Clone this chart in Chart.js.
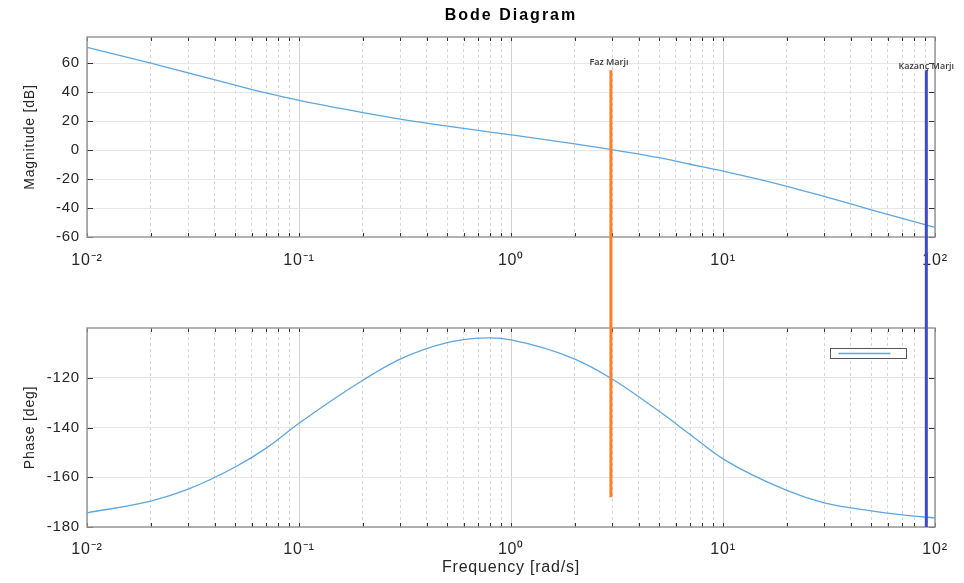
<!DOCTYPE html>
<html><head><meta charset="utf-8">
<script src="https://cdn.jsdelivr.net/npm/chart.js@4.4.1/dist/chart.umd.min.js"></script>
<style>html,body{margin:0;padding:0;background:#fff;}canvas{display:block;}</style>
</head><body>
<canvas id="c" width="964" height="583"></canvas>
<script>
// ---- data ----
const freq      = [0.01, 0.02, 0.03, 0.05, 0.07, 0.1, 0.2, 0.3, 0.5, 0.7, 0.8, 1, 2, 3, 5, 7, 10, 20, 30, 50, 70, 100];
const magDb     = [70.9, 60.0, 53.2, 44.8, 39.4, 34.2, 25.8, 21.4, 16.5, 13.5, 12.4, 10.5, 4.3, 0.3, -5.3, -9.8, -14.6, -25.0, -32.0, -41.2, -47.2, -53.4];
const phaseDeg  = [-174.3, -169.6, -164.8, -155.9, -148.3, -138.3, -121.0, -112.5, -105.9, -104.1, -104.0, -104.8, -112.5, -120.5, -133.5, -142.8, -152.6, -165.3, -170.3, -173.5, -175.1, -176.4];

const xDecades      = [0.01, 0.1, 1, 10, 100];
const xDecadeLabels = ['10\u207B\u00B2', '10\u207B\u00B9', '10\u2070', '10\u00B9', '10\u00B2'];
const magTicks      = [-60, -40, -20, 0, 20, 40, 60];
const phaseTicks    = [-180, -160, -140, -120];
const magRange      = [-60, 78];
const phaseRange    = [-180, -100];

const markerNames   = ['Faz Marj\u0131', 'Kazan\u00E7 Marj\u0131'];
const markerFreq    = [2.96, 91];
const markerMagTop  = [55, 55];
const markerPhaseBottom = [-168, -180];

// ---- styles ----
const curveColor   = 'rgb(94,166,222)';
const markerColors = ['#ff7f27', '#4049cc'];
const textColor    = '#262626';
Chart.defaults.font.family = '"Liberation Sans", Arial, Helvetica, sans-serif';
const SPACING = '0.8px';

function isDecade(v){ return xDecades.some(d => Math.abs(v - d) / d < 1e-9); }

const datasets = [
  { data: freq.map((f, i) => ({x: f, y: magDb[i]})), yAxisID: 'yMag', borderColor: curveColor, borderWidth: 1.3,
    pointRadius: 0, cubicInterpolationMode: 'monotone', order: 2 },
  { data: freq.map((f, i) => ({x: f, y: phaseDeg[i]})), yAxisID: 'yPh', borderColor: curveColor, borderWidth: 1.3,
    pointRadius: 0, cubicInterpolationMode: 'monotone', order: 2 }
];
markerNames.forEach((name, k) => {
  const base = { pointRadius: 0, borderColor: markerColors[k], borderWidth: 3, order: 1, borderCapStyle: 'butt', tension: 0 };
  datasets.push(Object.assign({}, base, { label: name, marker: k, data: [{x: markerFreq[k], y: markerMagTop[k]}, {x: markerFreq[k], y: magRange[0]}], yAxisID: 'yMag' }));
  datasets.push(Object.assign({}, base, { data: [{x: markerFreq[k], y: 1}, {x: markerFreq[k], y: 0}], yAxisID: 'yGap' }));
  datasets.push(Object.assign({}, base, { data: [{x: markerFreq[k], y: phaseRange[1]}, {x: markerFreq[k], y: markerPhaseBottom[k]}], yAxisID: 'yPh' }));
});

function setSpacing(chart){ try { chart.ctx.letterSpacing = SPACING; } catch(e){} }

const bodePlugin = {
  id: 'bode',
  afterInit: setSpacing,
  beforeUpdate: setSpacing,
  beforeLayout: setSpacing,
  beforeDraw: setSpacing,
  beforeDatasetsDraw(chart){
    const {ctx, chartArea: ca, scales: {x, yMag, yPh}} = chart;
    ctx.save();
    ctx.fillStyle = '#fff';
    ctx.fillRect(ca.left, yMag.bottom, ca.right - ca.left + 1, yPh.top - yMag.bottom);
    ctx.strokeStyle = '#333'; ctx.lineWidth = 1;
    ctx.beginPath();
    x.ticks.forEach(t => {
      const px = Math.round(x.getPixelForValue(t.value)) + 0.5;
      [yMag, yPh].forEach(s => {
        ctx.moveTo(px, s.top); ctx.lineTo(px, s.top + 4);
        ctx.moveTo(px, s.bottom); ctx.lineTo(px, s.bottom - 4);
      });
    });
    [[yMag, magTicks], [yPh, phaseTicks]].forEach(([s, tk]) => {
      tk.forEach(v => {
        const py = Math.round(s.getPixelForValue(v)) + 0.5;
        ctx.moveTo(ca.left, py); ctx.lineTo(ca.left + 6, py);
        ctx.moveTo(ca.right, py); ctx.lineTo(ca.right - 6, py);
      });
    });
    ctx.stroke();
    ctx.strokeStyle = '#999'; ctx.lineWidth = 1.5;
    [yMag, yPh].forEach(s => ctx.strokeRect(ca.left, s.top, ca.right - ca.left, s.bottom - s.top));
    ctx.letterSpacing = SPACING;
    ctx.fillStyle = textColor; ctx.font = '16px "Liberation Sans", Arial, sans-serif';
    ctx.textAlign = 'center'; ctx.textBaseline = 'middle';
    xDecades.forEach((d, i) => ctx.fillText(xDecadeLabels[i], x.getPixelForValue(d), yMag.bottom + 23.5));
    ctx.fillStyle = '#000'; ctx.font = 'bold 16px "Liberation Sans", Arial, sans-serif';
    ctx.letterSpacing = '2px';
    ctx.fillText('Bode Diagram', (ca.left + ca.right) / 2, 16);
    ctx.letterSpacing = SPACING;
    const lx = ca.right - 104.5, ly = yPh.top + 20.5;
    ctx.fillStyle = '#fff'; ctx.fillRect(lx, ly, 76, 10);
    ctx.strokeStyle = '#555'; ctx.lineWidth = 1; ctx.strokeRect(lx, ly, 76, 10);
    ctx.strokeStyle = curveColor; ctx.lineWidth = 1.3;
    ctx.beginPath(); ctx.moveTo(lx + 8, ly + 5); ctx.lineTo(lx + 60, ly + 5); ctx.stroke();
    ctx.restore();
  },
  afterDatasetsDraw(chart){
    const ctx = chart.ctx;
    ctx.save();
    ctx.font = '600 9px "Open Sans", sans-serif';
    ctx.fillStyle = '#3a3a3a'; ctx.textAlign = 'center'; ctx.textBaseline = 'alphabetic';
    ctx.letterSpacing = '0px';
    const dy = [-5, -1.5], dx = [-2, 0];
    chart.data.datasets.forEach((ds, i) => {
      if (ds.label && ds.marker !== undefined) {
        const p = chart.getDatasetMeta(i).data[0];
        ctx.fillText(ds.label, p.x + dx[ds.marker], p.y + dy[ds.marker]);
      }
    });
    ctx.restore();
  }
};

new Chart(document.getElementById('c'), {
  type: 'line',
  data: { datasets },
  plugins: [bodePlugin],
  options: {
    responsive: false, animation: false, devicePixelRatio: 1, events: [],
    layout: { padding: { left: 0, right: 29, top: 37, bottom: 0 } },
    plugins: { legend: { display: false }, title: { display: false }, tooltip: { enabled: false } },
    scales: {
      x: {
        type: 'logarithmic', position: 'bottom', min: xDecades[0], max: xDecades[xDecades.length - 1],
        afterBuildTicks(s){
          const t = [];
          xDecades.forEach((d, i) => {
            if (i < xDecades.length - 1) { for (let m = 1; m < 10; m++) t.push({value: d * m}); }
            else t.push({value: d});
          });
          s.ticks = t;
        },
        afterFit(s){ s.height = 56; },
        grid: { color: c => (c.tick && isDecade(c.tick.value)) ? '#d2d2d2' : '#d6d6d6', lineWidth: 1, drawTicks: false },
        border: { display: false, dash: c => (c.tick && isDecade(c.tick.value)) ? [] : [3, 3] },
        ticks: { autoSkip: false, maxRotation: 0, minRotation: 0, padding: 13, color: textColor, font: { size: 16 },
          callback: v => { const k = xDecades.findIndex(d => Math.abs(v - d) / d < 1e-9); return k >= 0 ? xDecadeLabels[k] : ''; } },
        title: { display: true, text: 'Frequency [rad/s]', color: textColor, font: { size: 16 }, padding: { top: 0, bottom: 6 } }
      },
      yMag: {
        type: 'linear', position: 'left', stack: 'bode', stackWeight: 200, weight: 3, min: magRange[0], max: magRange[1],
        afterBuildTicks(s){ s.ticks = magTicks.map(v => ({value: v})); },
        afterFit(s){ s.width = 87; },
        grid: { color: '#e6e6e6', lineWidth: 1, drawTicks: false },
        border: { display: false },
        ticks: { autoSkip: false, padding: 7, color: textColor, font: { size: 15 }, callback: v => String(v) },
        title: { display: true, text: 'Magnitude [dB]', color: textColor, font: { size: 14 }, padding: { top: 22, bottom: 0 } }
      },
      yGap: {
        type: 'linear', position: 'left', stack: 'bode', stackWeight: 91, weight: 2, min: 0, max: 1, display: false
      },
      yPh: {
        type: 'linear', position: 'left', stack: 'bode', stackWeight: 199, weight: 1, min: phaseRange[0], max: phaseRange[1],
        afterBuildTicks(s){ s.ticks = phaseTicks.map(v => ({value: v})); },
        afterFit(s){ s.width = 87; },
        grid: { color: '#e6e6e6', lineWidth: 1, drawTicks: false },
        border: { display: false },
        ticks: { autoSkip: false, padding: 7, color: textColor, font: { size: 15 }, callback: v => String(v) },
        title: { display: true, text: 'Phase [deg]', color: textColor, font: { size: 14 }, padding: { top: 22, bottom: 0 } }
      }
    }
  }
});
</script>
</body></html>
